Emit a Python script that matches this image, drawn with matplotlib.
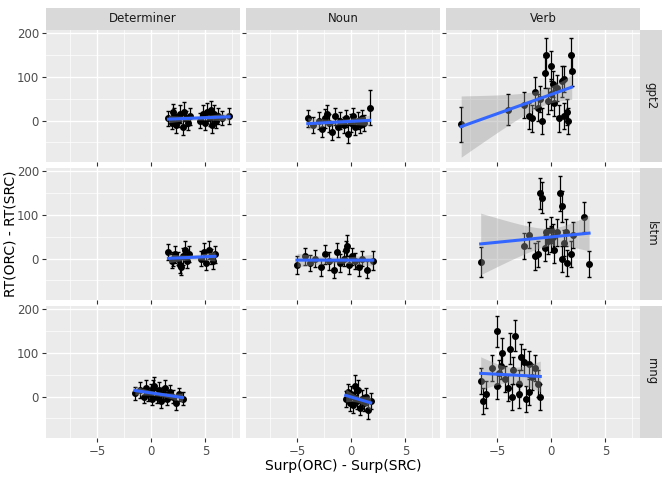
import matplotlib
matplotlib.use("Agg")
import matplotlib.pyplot as plt
import numpy as np

cols = ["Determiner", "Noun", "Verb"]
rows = ["gpt2", "lstm", "rnng"]

# (x, y, err) per panel
gpt2_det = [(1.6, 5, 18), (1.9, -5, 15), (2.1, 10, 20), (2.3, -10, 18), (2.5, 0, 15), (2.7, 15, 20),
            (2.9, -15, 18), (3.0, 20, 22), (3.2, 5, 18), (3.4, -5, 16), (3.6, 10, 20), (4.5, 0, 18),
            (4.8, 15, 20), (5.0, -5, 16), (5.2, 20, 20), (5.4, 5, 18), (5.6, -10, 18), (5.8, 15, 20),
            (6.0, 0, 16), (6.2, 10, 18), (6.5, 5, 16), (7.2, 10, 18), (2.0, 20, 18), (5.5, 25, 20)]
gpt2_noun = [(-4.0, 5, 20), (-3.5, -10, 18), (-3.0, 0, 20), (-2.7, -20, 18), (-2.4, 5, 22), (-2.0, -5, 20),
             (-1.8, -25, 20), (-1.5, 10, 20), (-1.2, -15, 22), (-1.0, 0, 20), (-0.7, -10, 18), (-0.5, 5, 20),
             (-0.3, -30, 22), (0.0, -5, 20), (0.2, 10, 20), (0.4, -15, 18), (0.6, 0, 20), (0.8, -10, 18),
             (1.0, 5, 20), (1.2, -5, 18), (1.7, 30, 40), (-2.2, 15, 20)]
gpt2_verb = [(-8.3, -8, 40), (-4.0, 25, 35), (-2.5, 35, 30), (-2.0, 10, 30), (-1.8, 5, 30), (-1.5, 65, 35),
             (-1.0, 50, 30), (-0.8, 0, 30), (-0.5, 150, 40), (-0.3, 45, 30), (0.0, 60, 35), (0.0, 125, 35),
             (0.2, 85, 30), (0.5, 75, 30), (0.7, 5, 30), (1.0, 90, 35), (1.2, 95, 30), (1.5, 20, 30),
             (1.6, 0, 30), (1.8, 150, 40), (1.9, 115, 35), (1.2, 10, 30), (-0.6, 110, 35), (0.3, 40, 30),
             (-1.2, 30, 30)]
lstm_det = [(1.6, 15, 18), (1.9, -5, 16), (2.2, 10, 20), (2.5, 0, 15), (2.7, -15, 18), (2.9, 5, 20),
            (3.1, 20, 20), (3.3, -5, 16), (3.5, 10, 18), (4.6, 0, 18), (4.9, 15, 20), (5.1, -10, 16),
            (5.3, 20, 20), (5.5, 5, 18), (5.7, -5, 18), (5.9, 10, 20), (2.0, 0, 16), (2.8, -20, 18)]
lstm_noun = [(-5.0, -15, 20), (-4.3, 5, 20), (-3.8, -10, 18), (-3.3, 0, 20), (-2.8, -20, 20), (-2.4, 10, 22),
             (-2.0, -5, 20), (-1.6, -25, 20), (-1.3, 15, 20), (-1.0, -10, 20), (-0.7, 0, 18), (-0.4, 30, 25),
             (-0.2, -15, 20), (0.1, 5, 20), (0.4, -5, 18), (0.7, -20, 20), (1.0, 0, 18), (1.5, -25, 20),
             (2.0, -5, 22), (-0.5, 20, 20)]
lstm_verb = [(-6.5, -8, 35), (-2.5, 28, 30), (-2.0, 55, 30), (-1.5, 5, 30), (-1.2, 10, 30), (-1.0, 150, 35),
             (-0.8, 140, 35), (-0.5, 60, 30), (-0.3, 40, 30), (0.0, 45, 30), (0.0, 65, 30), (0.3, 20, 30),
             (0.5, 60, 30), (0.8, 150, 40), (1.0, 120, 35), (1.0, 0, 30), (1.2, 35, 30), (1.5, -10, 30),
             (1.8, 10, 30), (2.0, 55, 30), (3.0, 95, 35), (3.5, -12, 30), (-0.6, 25, 30), (0.2, 50, 30),
             (1.4, 60, 30)]
rnng_det = [(-1.5, 8, 15), (-1.0, 15, 18), (-0.7, 0, 15), (-0.5, 20, 18), (-0.3, 5, 15), (0.0, 10, 18),
            (0.1, -5, 15), (0.3, 25, 20), (0.5, 0, 15), (0.7, 15, 18), (0.9, -10, 15), (1.1, 5, 16),
            (1.3, 20, 18), (1.5, -5, 15), (1.7, 10, 16), (2.0, 0, 15), (2.3, -15, 16), (2.6, 5, 15),
            (2.9, -5, 15), (0.2, 20, 18)]
rnng_noun = [(-0.5, -5, 18), (-0.3, 10, 20), (-0.1, -15, 18), (0.0, 5, 20), (0.2, -20, 18), (0.3, 0, 20),
             (0.5, -10, 18), (0.6, 15, 22), (0.8, -25, 18), (1.0, -5, 20), (1.2, -15, 18), (1.4, 0, 20),
             (1.6, -30, 22), (1.8, -10, 18), (0.4, 25, 25)]
rnng_verb = [(-6.5, 35, 30), (-6.3, -10, 30), (-6.0, 5, 30), (-5.5, 65, 30), (-5.0, 150, 35), (-5.0, 25, 30),
             (-4.8, 55, 30), (-4.5, 100, 35), (-4.3, 40, 30), (-4.0, 20, 30), (-3.8, 110, 35), (-3.5, 60, 30),
             (-3.3, 140, 35), (-3.0, 30, 30), (-3.0, 5, 30), (-2.8, 90, 30), (-2.5, 80, 30), (-2.3, -5, 30),
             (-2.0, 75, 30), (-2.0, 10, 30), (-1.8, 45, 30), (-1.5, 65, 30), (-1.2, 30, 30), (-1.0, 0, 30),
             (-4.6, 70, 30), (-3.6, 0, 30)]

panels = [[gpt2_det, gpt2_noun, gpt2_verb],
          [lstm_det, lstm_noun, lstm_verb],
          [rnng_det, rnng_noun, rnng_verb]]

W, H = 672, 480
fig = plt.figure(figsize=(6.72, 4.8), dpi=100)
col_x = [46, 246, 446]
row_y = [30, 168, 306]
pw, ph = 194, 132

for r in range(3):
    for c in range(3):
        ax = fig.add_axes([col_x[c] / W, 1 - (row_y[r] + ph) / H, pw / W, ph / H])
        ax.set_facecolor("#EBEBEB")
        ax.set_xlim(-9.7, 8.2)
        ax.set_ylim(-95, 208)
        ax.set_xticks([-5, 0, 5])
        ax.set_yticks([0, 100, 200])
        ax.set_xticks([-7.5, -2.5, 2.5, 7.5], minor=True)
        ax.set_yticks([-50, 50, 150], minor=True)
        ax.grid(which="major", color="white", lw=1.0)
        ax.grid(which="minor", color="white", lw=0.5)
        ax.set_axisbelow(True)
        for s in ax.spines.values():
            s.set_visible(False)
        ax.tick_params(which="both", length=0)
        ax.tick_params(which="major", length=3, pad=2, color="#333333", labelsize=8.5, labelcolor="#4D4D4D")
        if c != 0:
            ax.set_yticklabels([])
        if r != 2:
            ax.set_xticklabels([])

        d = np.array(panels[r][c])
        x, y, e = d[:, 0], d[:, 1], d[:, 2]
        ax.errorbar(x, y, yerr=e, fmt="o", color="black", ms=4, elinewidth=0.9, capsize=1.2, zorder=3)

        # linear fit with 95% band
        n = len(x)
        b, a = np.polyfit(x, y, 1)
        xs = np.linspace(x.min(), x.max(), 80)
        yhat = a + b * xs
        resid = y - (a + b * x)
        s = np.sqrt(np.sum(resid ** 2) / (n - 2))
        se = s * np.sqrt(1 / n + (xs - x.mean()) ** 2 / np.sum((x - x.mean()) ** 2))
        ax.fill_between(xs, yhat - 2.05 * se, yhat + 2.05 * se, color="#999999", alpha=0.4, lw=0, zorder=4)
        ax.plot(xs, yhat, color="#3366FF", lw=2.2, zorder=5)

        if r == 0:
            sa = fig.add_axes([col_x[c] / W, 1 - row_y[r] / H, pw / W, 22 / H])
            sa.set_facecolor("#D9D9D9")
            sa.set_xticks([]); sa.set_yticks([])
            for sp in sa.spines.values():
                sp.set_visible(False)
            sa.text(0.5, 0.5, cols[c], ha="center", va="center", fontsize=8.5, color="#1A1A1A")
        if c == 2:
            sa = fig.add_axes([(col_x[c] + pw) / W, 1 - (row_y[r] + ph) / H, 22 / W, ph / H])
            sa.set_facecolor("#D9D9D9")
            sa.set_xticks([]); sa.set_yticks([])
            for sp in sa.spines.values():
                sp.set_visible(False)
            sa.text(0.5, 0.5, rows[r], ha="center", va="center", rotation=-90, fontsize=8.5, color="#1A1A1A")

fig.text(col_x[1] / W + pw / 2 / W, 1 - 466 / H, "Surp(ORC) - Surp(SRC)", ha="center", va="center", fontsize=10)
fig.text(4 / W, 1 - 234 / H, "RT(ORC) - RT(SRC)", ha="left", va="center", rotation=90, fontsize=10)
fig.savefig("out.png", dpi=100)
